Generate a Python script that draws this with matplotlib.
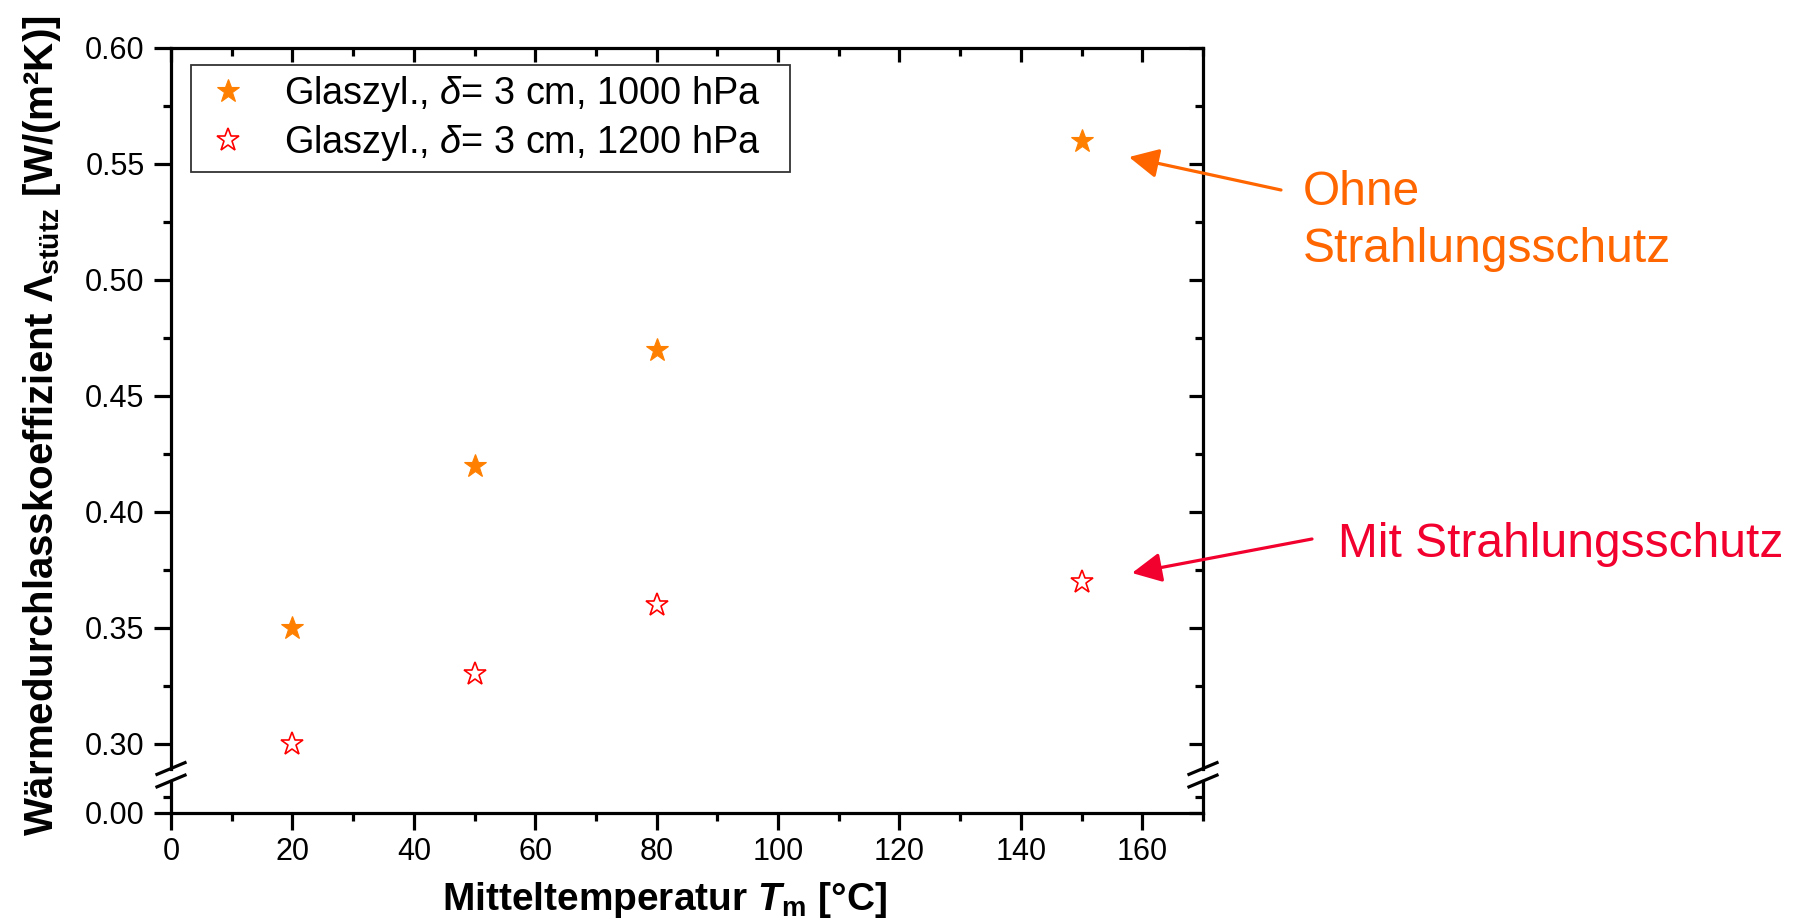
import matplotlib
matplotlib.use("Agg")
import matplotlib.pyplot as plt
from matplotlib.lines import Line2D
from matplotlib.ticker import MultipleLocator, FixedLocator, FormatStrFormatter

plt.rcParams['font.family'] = ['Liberation Sans', 'DejaVu Sans']
plt.rcParams['mathtext.fontset'] = 'custom'
plt.rcParams['mathtext.rm'] = 'Liberation Sans'
plt.rcParams['mathtext.it'] = 'Liberation Sans:italic'
plt.rcParams['mathtext.bf'] = 'Liberation Sans:bold'
plt.rcParams['mathtext.bfit'] = 'Liberation Sans:bold:italic'

# ---------------- data ----------------
temps = [20, 50, 80, 150]
lam_1000hPa = [0.35, 0.42, 0.47, 0.56]
lam_1200hPa = [0.30, 0.33, 0.36, 0.37]
series_labels = [r"Glaszyl., $\delta$= 3 cm, 1000 hPa",
                 r"Glaszyl., $\delta$= 3 cm, 1200 hPa"]
xticks = [0, 20, 40, 60, 80, 100, 120, 140, 160]
yticks_top = [0.30, 0.35, 0.40, 0.45, 0.50, 0.55, 0.60]
yticks_bottom = [0.00]
xlabel = r"Mitteltemperatur $\mathbfit{T}_\mathbf{m}$ [°C]"
ylabel = r"Wärmedurchlasskoeffizient $\mathbf{\Lambda}_\mathbf{stütz}$ [W/(m²K)]"
note_top = ["Ohne", "Strahlungsschutz"]
note_bottom = "Mit Strahlungsschutz"

# ---------------- layout (pixels) ----------------
W, H = 1805, 923
fig = plt.figure(figsize=(W / 100, H / 100), dpi=100)

def fx(px):
    return px / W

def fy(py):
    return 1 - py / H

L, R = 171, 1203
T_top = 48          # y=0.60
brk_top = 768.5     # bottom of upper segment
brk_bot = 781       # top of lower segment
B = 813             # y=0.00
px_per_unit = 2320.0

ax_top = fig.add_axes([fx(L), fy(brk_top), (R - L) / W, (brk_top - T_top) / H])
ax_bot = fig.add_axes([fx(L), fy(B), (R - L) / W, (B - brk_bot) / H], sharex=ax_top)

ax_top.set_xlim(0, 170)
ax_top.set_ylim(0.60 - (brk_top - T_top) / px_per_unit, 0.60)
ax_bot.set_ylim(0, (B - brk_bot) / px_per_unit)

LW = 2.3
TICKFS = 22
ORANGE_M = "#FF8000"
RED_M = "#FF0000"
ORANGE_T = "#FF6600"
RED_T = "#F2002E"

for ax in (ax_top, ax_bot):
    for s in ax.spines.values():
        s.set_linewidth(LW)
ax_top.spines['bottom'].set_visible(False)
ax_bot.spines['top'].set_visible(False)

# x axis
ax_bot.xaxis.set_major_locator(FixedLocator(xticks))
ax_bot.xaxis.set_minor_locator(MultipleLocator(10))
ax_bot.tick_params(axis='x', which='major', direction='out', length=12, width=LW,
                   labelsize=TICKFS, pad=5, top=False, bottom=True)
ax_bot.tick_params(axis='x', which='minor', direction='out', length=6, width=LW,
                   top=False, bottom=True)
ax_top.tick_params(axis='x', which='both', bottom=False, labelbottom=False,
                   top=True, direction='in', width=LW)
ax_top.tick_params(axis='x', which='major', length=10)
ax_top.tick_params(axis='x', which='minor', length=6)

# y axes (left outward)
minor_bottom = [(B - 797) / px_per_unit]
ax_top.yaxis.set_major_locator(FixedLocator(yticks_top))
ax_top.yaxis.set_minor_locator(MultipleLocator(0.025))
ax_top.yaxis.set_major_formatter(FormatStrFormatter('%.2f'))
ax_top.tick_params(axis='y', which='major', direction='out', length=12, width=LW,
                   labelsize=TICKFS, pad=7, right=False)
ax_top.tick_params(axis='y', which='minor', direction='out', length=6, width=LW, right=False)

ax_bot.yaxis.set_major_locator(FixedLocator(yticks_bottom))
ax_bot.yaxis.set_minor_locator(FixedLocator(minor_bottom))
ax_bot.yaxis.set_major_formatter(FormatStrFormatter('%.2f'))
ax_bot.tick_params(axis='y', which='major', direction='out', length=12, width=LW,
                   labelsize=TICKFS, pad=7, right=False)
ax_bot.tick_params(axis='y', which='minor', direction='out', length=6, width=LW, right=False)

# right side inward ticks
for ax, maj, mino in ((ax_top, FixedLocator(yticks_top), MultipleLocator(0.025)),
                      (ax_bot, FixedLocator(yticks_bottom), FixedLocator(minor_bottom))):
    sec = ax.secondary_yaxis('right')
    sec.yaxis.set_major_locator(maj)
    sec.yaxis.set_minor_locator(mino)
    sec.tick_params(axis='y', which='major', direction='in', length=10, width=LW, labelright=False)
    sec.tick_params(axis='y', which='minor', direction='in', length=6, width=LW)
    sec.spines['right'].set_linewidth(LW)
    ax.spines['right'].set_visible(False)

# data
ax_top.plot(temps, lam_1000hPa, linestyle='none', marker='*', markersize=17,
            markerfacecolor=ORANGE_M, markeredgecolor=ORANGE_M, markeredgewidth=0.8,
            label=series_labels[0])
ax_top.plot(temps, lam_1200hPa, linestyle='none', marker='*', markersize=17,
            markerfacecolor='white', markeredgecolor=RED_M, markeredgewidth=1.2,
            label=series_labels[1])

span_h = brk_top - T_top
leg_x0 = (191 - L) / (R - L)
leg_w = (790 - 191) / (R - L)
leg_top = 1 - (65 - T_top) / span_h
leg_h = (169 - 65) / span_h
leg = ax_top.legend(loc='upper left', mode='expand',
                    bbox_to_anchor=(leg_x0, leg_top - leg_h, leg_w, leg_h),
                    borderaxespad=0, fontsize=27.3, frameon=True, fancybox=False,
                    edgecolor='black', borderpad=0.25, handlelength=1.45,
                    handletextpad=0.75, labelspacing=0.22)
leg.get_frame().set_linewidth(1.3)

# break marks
for cx in (L, R):
    for cy in (brk_top, brk_bot):
        fig.add_artist(Line2D([fx(cx - 15.5), fx(cx + 15.5)], [fy(cy + 6.5), fy(cy - 6.5)],
                              transform=fig.transFigure, color='black', lw=LW,
                              solid_capstyle='butt'))

# axis labels
fig.text(fx(664), fy(910), xlabel, ha='center', va='baseline', fontsize=28,
         fontweight='bold')
fig.text(fx(42), fy(426), ylabel, ha='center', va='center', rotation=90,
         fontsize=29, fontweight='bold')

# annotations
arrow_style = '-|>,head_length=0.9,head_width=0.45'
ax_top.annotate('', xy=(157.8, 0.553), xycoords='data',
                xytext=(fx(1281), fy(190)), textcoords='figure fraction',
                arrowprops=dict(arrowstyle=arrow_style, mutation_scale=20, lw=2.3,
                                color=ORANGE_T, shrinkA=0, shrinkB=0),
                annotation_clip=False)
ax_top.annotate('', xy=(158.3, 0.3737), xycoords='data',
                xytext=(fx(1312), fy(539)), textcoords='figure fraction',
                arrowprops=dict(arrowstyle=arrow_style, mutation_scale=20, lw=2.3,
                                color=RED_T, shrinkA=0, shrinkB=0),
                annotation_clip=False)
fig.text(fx(1303), fy(205), note_top[0], color=ORANGE_T, fontsize=34.5, va='baseline')
fig.text(fx(1303), fy(262), note_top[1], color=ORANGE_T, fontsize=34.5, va='baseline')
fig.text(fx(1338), fy(557), note_bottom, color=RED_T, fontsize=34.5, va='baseline')

fig.savefig("out.png", dpi=100)
